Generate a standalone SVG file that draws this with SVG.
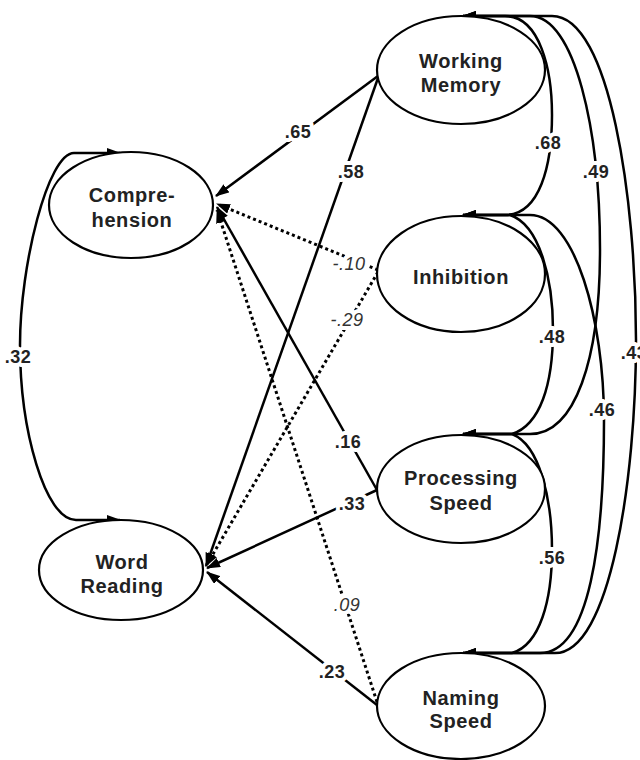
<svg xmlns="http://www.w3.org/2000/svg" width="640" height="760" viewBox="0 0 640 760">
<defs>
<marker id="ah" viewBox="0 0 14 10" refX="13" refY="5" markerWidth="14" markerHeight="10" markerUnits="userSpaceOnUse" orient="auto-start-reverse"><path d="M0,0 L14,5 L0,10 z" fill="#000"/></marker>
<style>
.node ellipse{fill:#fff;stroke:#000;stroke-width:2.2}
.node text{font-family:"Liberation Sans",Arial,sans-serif;font-weight:bold;font-size:20px;letter-spacing:0.6px;text-anchor:middle;fill:#222}
.sol{fill:none;stroke:#000;stroke-width:2.5;marker-end:url(#ah)}
.dot{fill:none;stroke:#000;stroke-width:3;stroke-dasharray:3 3;marker-end:url(#ah)}
.cor{fill:none;stroke:#000;stroke-width:2.5;marker-start:url(#ah);marker-end:url(#ah)}
.lb{font-family:"Liberation Sans",Arial,sans-serif;font-weight:bold;font-size:18px;letter-spacing:0.5px;text-anchor:middle;fill:#222;stroke:#fff;stroke-width:8;paint-order:stroke;stroke-linejoin:round}
.lbi{font-family:"Liberation Sans",Arial,sans-serif;font-style:italic;font-size:18px;letter-spacing:0.5px;text-anchor:middle;fill:#333;stroke:#fff;stroke-width:8;paint-order:stroke;stroke-linejoin:round}
</style>
</defs>
<rect width="640" height="760" fill="#fff"/>
<g id="connectors">
<path class="cor" d="M120,520 H76 C45,520 20,430 20,345 C20,265 48,153 74,153 H120"/>
<path class="cor" d="M463,215 H505 C540,215 552,165 552,115 C552,70 540,16 505,16 H463"/>
<path class="cor" d="M463,434 H530 C575,434 600,360 600,250 C600,130 575,16 530,16 H463"/>
<path class="cor" d="M463,653 H555 C610,653 636,480 636,340 C636,200 610,16 552,16 H463"/>
<path class="cor" d="M463,434 H512 C540,425 553,385 553,330 C553,280 540,225 510,215 H463"/>
<path class="cor" d="M463,653 H540 C590,653 604,540 604,420 C604,320 575,215 530,215 H463"/>
<path class="cor" d="M463,653 H512 C540,645 552,600 552,550 C552,500 540,445 512,434 H463"/>
<path class="sol" d="M378,76 L216,196"/>
<path class="sol" d="M378,78 L206,566"/>
<path class="dot" d="M378,270 L217,204"/>
<path class="dot" d="M378,272 L206,566"/>
<path class="sol" d="M377,490 L217,207"/>
<path class="sol" d="M377,490 L207,568"/>
<path class="dot" d="M377,702 L217,210"/>
<path class="sol" d="M377,705 L207,572"/>
<text class="lb" x="18" y="363">.32</text>
<text class="lb" x="298" y="138">.65</text>
<text class="lb" x="351" y="178">.58</text>
<text class="lbi" x="349" y="270">-.10</text>
<text class="lbi" x="347" y="326">-.29</text>
<text class="lb" x="348" y="448">.16</text>
<text class="lb" x="352" y="510">.33</text>
<text class="lbi" x="347" y="611">.09</text>
<text class="lb" x="332" y="678">.23</text>
<text class="lb" x="548" y="149">.68</text>
<text class="lb" x="596" y="178">.49</text>
<text class="lb" x="634" y="359">.43</text>
<text class="lb" x="552" y="343">.48</text>
<text class="lb" x="602" y="416">.46</text>
<text class="lb" x="552" y="564">.56</text>
</g>
<g id="comprehension" class="node"><ellipse cx="131" cy="205" rx="82" ry="53"/><text x="132" y="202">Compre-</text><text x="132" y="227">hension</text></g>
<g id="word-reading" class="node"><ellipse cx="121" cy="570" rx="82" ry="50"/><text x="122" y="569">Word</text><text x="122" y="593">Reading</text></g>
<g id="working-memory" class="node"><ellipse cx="461" cy="70" rx="84" ry="54"/><text x="461" y="68">Working</text><text x="461" y="92">Memory</text></g>
<g id="inhibition" class="node"><ellipse cx="461" cy="274" rx="84" ry="58"/><text x="461" y="284">Inhibition</text></g>
<g id="processing-speed" class="node"><ellipse cx="461" cy="489" rx="84" ry="54"/><text x="461" y="485">Processing</text><text x="461" y="510">Speed</text></g>
<g id="naming-speed" class="node"><ellipse cx="461" cy="706" rx="84" ry="53"/><text x="461" y="705">Naming</text><text x="461" y="728">Speed</text></g>
</svg>
